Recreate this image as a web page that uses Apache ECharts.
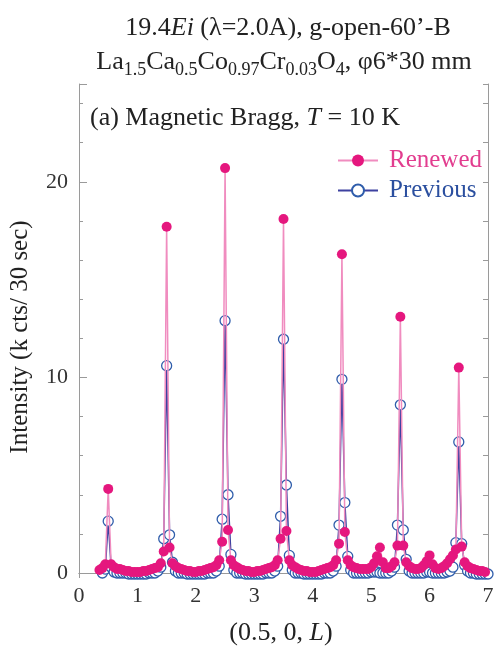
<!DOCTYPE html>
<html>
<head>
<meta charset="utf-8">
<script src="https://cdn.jsdelivr.net/npm/echarts@6/dist/echarts.min.js"></script>
<style>html,body{margin:0;padding:0;background:#fff}#c{width:497px;height:648px}</style>
</head>
<body>
<div id="c"></div>
<script>
// (0.5, 0, L) positions
var L = [
0.35,0.40,0.45,0.50,0.55,0.60,0.65,
0.70,0.75,0.80,0.85,0.90,0.95,1.00,1.05,1.10,1.15,1.20,1.25,1.30,
1.35,1.40,1.45,1.50,1.55,1.60,1.65,
1.70,1.75,1.80,1.85,1.90,1.95,2.00,2.05,2.10,2.15,2.20,2.25,2.30,
2.35,2.40,2.45,2.50,2.55,2.60,2.65,
2.70,2.75,2.80,2.85,2.90,2.95,3.00,3.05,3.10,3.15,3.20,3.25,3.30,
3.35,3.40,3.45,3.50,3.55,3.60,3.65,
3.70,3.75,3.80,3.85,3.90,3.95,4.00,4.05,4.10,4.15,4.20,4.25,4.30,
4.35,4.40,4.45,4.50,4.55,4.60,4.65,
4.70,4.75,4.80,4.85,4.90,4.95,5.00,5.05,5.10,5.15,5.20,5.25,5.30,
5.35,5.40,5.45,5.50,5.55,5.60,5.65,
5.70,5.75,5.80,5.85,5.90,5.95,6.00,6.05,6.10,6.15,6.20,6.25,6.30,
6.35,6.40,6.45,6.50,6.55,6.60,6.65,
6.70,6.75,6.80,6.85,6.90,6.95,7.00
];
// Renewed intensity (k cts / 30 sec)
var renewed = [
0.15,0.25,0.45,4.3,0.45,0.3,0.2,
0.2,0.15,0.1,0.1,0.05,0.05,0.05,0.05,0.1,0.1,0.15,0.2,0.25,
0.3,0.5,1.1,17.7,1.3,0.5,0.35,
0.25,0.2,0.15,0.1,0.1,0.05,0.05,0.1,0.1,0.15,0.2,0.25,0.3,
0.4,0.65,1.6,20.7,2.2,0.65,0.4,
0.3,0.2,0.15,0.1,0.1,0.05,0.05,0.1,0.1,0.15,0.2,0.25,0.3,
0.4,0.65,1.75,18.1,2.15,0.65,0.4,
0.3,0.2,0.15,0.1,0.1,0.05,0.05,0.05,0.1,0.15,0.2,0.25,0.3,
0.4,0.65,1.5,16.3,2.1,0.65,0.4,
0.3,0.25,0.2,0.2,0.2,0.2,0.3,0.5,0.85,1.3,0.55,0.25,0.25,
0.35,0.55,1.4,13.1,1.4,0.55,0.35,
0.25,0.2,0.2,0.25,0.4,0.6,0.9,0.45,0.25,0.2,0.25,0.35,0.5,
0.7,0.9,1.2,10.5,1.35,0.55,0.35,
0.25,0.2,0.15,0.1,0.1,0.05,null
];
// Previous intensity (k cts / 30 sec)
var previous = [
null,0,0.2,2.65,0.3,0.05,0,
0,0,0,-0.05,-0.05,-0.05,-0.05,-0.05,-0.05,-0.05,0,0,0,
0.1,0.3,1.75,10.6,1.95,0.55,0.1,
0,0,0,-0.05,-0.05,-0.05,-0.05,-0.05,-0.05,-0.05,0,0,0,
0.1,0.35,2.75,12.9,4.0,0.95,0.15,
0,0,0,-0.05,-0.05,-0.05,-0.05,-0.05,-0.05,-0.05,0,0,0,
0.1,0.35,2.9,11.95,4.5,0.9,0.15,
0,0,0,-0.05,-0.05,-0.05,-0.05,-0.05,-0.05,-0.05,0,0,0,
0.1,0.35,2.45,9.9,3.6,0.85,0.15,
0,0,0,0,0,0,0.05,0.05,0.05,0,0,0,0,
0.1,0.3,2.45,8.6,2.2,0.7,0.1,
0,0,0,0,0,0.05,0.05,0,0,0,0,0,0.05,
0.1,0.3,1.55,6.7,1.5,0.4,0.1,
0,0,-0.05,-0.05,-0.05,-0.05,-0.05
];
var xTicks = [0,1,2,3,4,5,6,7];
var yTickLabels = [0,10,20];

function pairs(xs, ys){ var o=[]; for(var i=0;i<xs.length;i++){ if(ys[i]!==null) o.push([xs[i], ys[i]]); } return o; }

var SERIF = '"Liberation Serif","DejaVu Serif",serif';
var AX = '#9a9a9a';
var TXT = '#222';
var chart = echarts.init(document.getElementById('c'), null, {renderer:'canvas'});
var grid = {left:79, right:9, top:84, bottom:75};
var yCommon = {type:'value', min:0, max:25};
chart.setOption({
  animation:false,
  backgroundColor:'#fff',
  grid: grid,
  legend: {
    orient:'vertical', left:332, top:143, itemWidth:40, itemHeight:15, itemGap:5,
    textStyle:{fontFamily:SERIF, fontSize:25, padding:[0,0,0,6]},
    data:[
      {name:'Renewed', textStyle:{color:'#e23d8f'}},
      {name:'Previous', textStyle:{color:'#2b4f9f'}}
    ]
  },
  xAxis: [
    {type:'value', min:0, max:7, interval:1, position:'bottom',
     axisLine:{lineStyle:{color:AX}}, axisTick:{inside:true, length:5, lineStyle:{color:AX}},
     axisLabel:{fontFamily:SERIF, fontSize:22, color:'#333', margin:12,
       formatter:function(v){ return xTicks.indexOf(v)>=0 ? String(v) : ''; }},
     splitLine:{show:false}},
    {type:'value', min:0, max:7, interval:1, position:'top',
     axisLine:{show:true, lineStyle:{color:AX}}, axisTick:{inside:true, length:5, lineStyle:{color:AX}},
     axisLabel:{show:false}, splitLine:{show:false}}
  ],
  yAxis: [
    Object.assign({}, yCommon, {interval:10, position:'left',
     axisLine:{show:true, lineStyle:{color:AX}}, axisTick:{show:true, inside:true, length:8, lineStyle:{color:AX}},
     axisLabel:{fontFamily:SERIF, fontSize:22, color:'#333', margin:11,
       formatter:function(v){ return yTickLabels.indexOf(v)>=0 ? String(v) : ''; }},
     splitLine:{show:false}}),
    Object.assign({}, yCommon, {interval:2, position:'left',
     axisLine:{show:false}, axisTick:{show:true, inside:true, length:4, lineStyle:{color:AX}},
     axisLabel:{show:false}, splitLine:{show:false}}),
    Object.assign({}, yCommon, {interval:2, position:'right',
     axisLine:{show:true, lineStyle:{color:AX}}, axisTick:{show:true, inside:true, length:5, lineStyle:{color:AX}},
     axisLabel:{show:false}, splitLine:{show:false}})
  ],
  series: [
    {name:'Previous', type:'line', data:pairs(L, previous), clip:false, z:2,
     symbol:'circle', symbolSize:10, showAllSymbol:true,
     itemStyle:{color:'#ffffff', borderColor:'#2f5dab', borderWidth:1.3},
     lineStyle:{color:'#3d41a0', width:1.5}},
    {name:'Renewed', type:'line', data:pairs(L, renewed), clip:false, z:3,
     symbol:'circle', symbolSize:10, showAllSymbol:true,
     itemStyle:{color:'#e5177e'},
     lineStyle:{color:'#f08cbf', width:1.5}}
  ],
  graphic: [
    {type:'text', x:288, y:28, style:{
      text:'{n|19.4}{i|Ei}{n| (λ=2.0A), g-open-60’-B}', align:'center', verticalAlign:'middle',
      rich:{n:{fontFamily:SERIF, fontSize:26, fill:TXT}, i:{fontFamily:SERIF, fontSize:26, fontStyle:'italic', fill:TXT}}}},
    {type:'text', x:284, y:64, style:{
      text:'{n|La}{s|1.5}{n|Ca}{s|0.5}{n|Co}{s|0.97}{n|Cr}{s|0.03}{n|O}{s|4}{n|, φ6*30 mm}', align:'center', verticalAlign:'middle',
      rich:{n:{fontFamily:SERIF, fontSize:26, fill:TXT, lineHeight:30, verticalAlign:'top'},
            s:{fontFamily:SERIF, fontSize:18, fill:TXT, lineHeight:30, verticalAlign:'bottom'}}}},
    {type:'text', x:90, y:118, style:{
      text:'{n|(a) Magnetic Bragg, }{i|T}{n| = 10 K}', verticalAlign:'middle',
      rich:{n:{fontFamily:SERIF, fontSize:26, fill:TXT}, i:{fontFamily:SERIF, fontSize:26, fontStyle:'italic', fill:TXT}}}},
    {type:'text', x:20, y:337, rotation:Math.PI/2, style:{
      text:'Intensity (k cts/ 30 sec)', fontFamily:SERIF, fontSize:25, fill:TXT, align:'center', verticalAlign:'middle'}},
    {type:'text', x:281, y:633, style:{
      text:'{n|(0.5, 0, }{i|L}{n|)}', align:'center', verticalAlign:'middle',
      rich:{n:{fontFamily:SERIF, fontSize:26, fill:TXT}, i:{fontFamily:SERIF, fontSize:26, fontStyle:'italic', fill:TXT}}}}
  ]
});
</script>
</body>
</html>
